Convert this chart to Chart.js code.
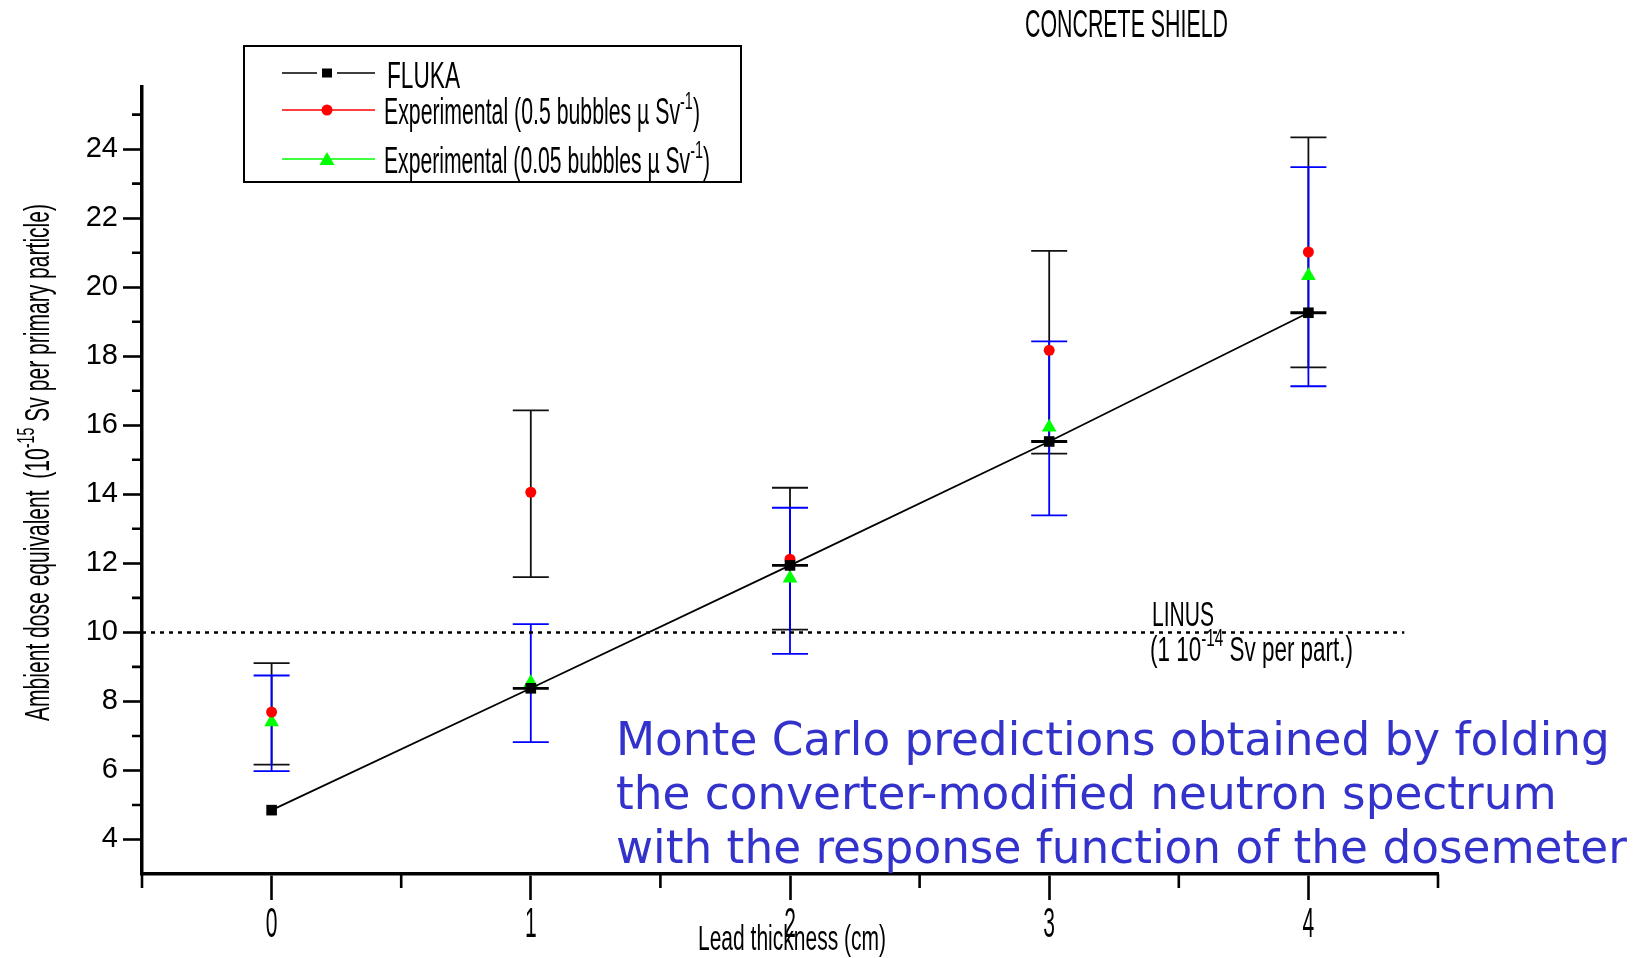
<!DOCTYPE html>
<html>
<head>
<meta charset="utf-8">
<script src="https://cdn.jsdelivr.net/npm/chart.js@4.4.1/dist/chart.umd.min.js"></script>
<style>
  html, body { margin: 0; padding: 0; background: #fff; }
  canvas { display: block; }
</style>
</head>
<body>
<canvas id="doseChart" width="1644" height="958"></canvas>
<script>
// lead thickness (cm)
const thickness = [0, 1, 2, 3, 4];
// FLUKA prediction, 10^-15 Sv per primary particle
const fluka = [4.85, 8.38, 11.94, 15.53, 19.26];
const flukaErr = [null, 0, 0, 0, 0];
// bubble dosemeter, 0.5 bubbles/uSv
const exp05 = [7.69, 14.06, 12.12, 18.17, 21.02];
const exp05High = [9.11, 16.43, 14.19, 21.05, 24.34];
const exp05Low = [6.17, 11.6, 10.08, 15.18, 17.68];
// bubble dosemeter, 0.05 bubbles/uSv
const exp005 = [7.4, 8.54, 11.57, 15.94, 20.33];
const exp005High = [8.75, 10.24, 13.61, 18.43, 23.48];
const exp005Low = [5.98, 6.82, 9.38, 13.39, 17.13];
// LINUS reference level
const linusLevel = 10;
const linusRange = [-0.5, 4.37];

const xTicks = [0, 1, 2, 3, 4];
const xMinor = [-0.5, 0.5, 1.5, 2.5, 3.5, 4.5];
const yTicks = [4, 6, 8, 10, 12, 14, 16, 18, 20, 22, 24];
const yMinor = [5, 7, 9, 11, 13, 15, 17, 19, 21, 23, 25];

const NARROW = "'Liberation Sans', Arial, sans-serif";

const toPoints = (vals) => vals.map((v, i) => ({ x: thickness[i], y: v }));

// draws text squeezed horizontally; parts = [[text, superscript?], ...]
function condensed(ctx, parts, x, y, size, opts) {
  const supSize = size * 0.68;
  let natural = 0;
  parts.forEach(([t, sup]) => {
    ctx.font = (sup ? supSize : size) + "px " + NARROW;
    natural += ctx.measureText(t).width;
  });
  const sx = opts.width ? opts.width / natural : opts.sx;
  const w = natural * sx;
  let left = x;
  if (opts.align === "center") left = x - w / 2;
  ctx.save();
  ctx.translate(left, y);
  ctx.scale(sx, 1);
  ctx.fillStyle = opts.color || "#000";
  ctx.textBaseline = "alphabetic";
  let cx = 0;
  parts.forEach(([t, sup]) => {
    ctx.font = (sup ? supSize : size) + "px " + NARROW;
    ctx.fillText(t, cx, sup ? -size * 0.42 : 0);
    cx += ctx.measureText(t).width;
  });
  ctx.restore();
}

const errorBars = {
  id: "errorBars",
  beforeDatasetsDraw(chart) {
    const { ctx, scales: { x, y } } = chart;
    const cap = 18;
    const bars = (lows, highs, color, width) => {
      ctx.save();
      ctx.strokeStyle = color;
      ctx.lineWidth = width;
      thickness.forEach((t, i) => {
        if (lows[i] == null) return;
        const px = x.getPixelForValue(t);
        const top = y.getPixelForValue(highs[i]);
        const bot = y.getPixelForValue(lows[i]);
        ctx.beginPath();
        ctx.moveTo(px, top); ctx.lineTo(px, bot);
        ctx.moveTo(px - cap, top); ctx.lineTo(px + cap, top);
        ctx.moveTo(px - cap, bot); ctx.lineTo(px + cap, bot);
        ctx.stroke();
      });
      ctx.restore();
    };
    bars(exp05Low, exp05High, "#111", 1.8);
    bars(exp005Low, exp005High, "#0000ff", 1.8);
    const fLow = fluka.map((v, i) => flukaErr[i] == null ? null : v - flukaErr[i]);
    const fHigh = fluka.map((v, i) => flukaErr[i] == null ? null : v + flukaErr[i]);
    bars(fLow, fHigh, "#000", 2.8);
  },
  afterDraw(chart) {
    const { ctx, scales: { x, y }, chartArea } = chart;
    ctx.save();
    ctx.strokeStyle = "#000";
    // minor ticks
    ctx.lineWidth = 2.6;
    ctx.beginPath();
    yMinor.forEach((v) => {
      const py = y.getPixelForValue(v);
      ctx.moveTo(chartArea.left - 10, py); ctx.lineTo(chartArea.left, py);
    });
    xMinor.forEach((v) => {
      const px = x.getPixelForValue(v);
      ctx.moveTo(px, chartArea.bottom); ctx.lineTo(px, chartArea.bottom + 14);
    });
    ctx.stroke();
    ctx.restore();

    // x tick labels
    xTicks.forEach((v) => {
      condensed(ctx, [[String(v), false]], x.getPixelForValue(v), 937, 42, { sx: 0.5, align: "center" });
    });

    // axis titles
    condensed(ctx, [["Lead thickness (cm)", false]], 698, 950, 35, { width: 188 });
    ctx.save();
    ctx.translate(49, 721);
    ctx.rotate(-Math.PI / 2);
    condensed(ctx, [["Ambient dose equivalent  (10", false], ["-15", true], [" Sv per primary particle)", false]], 0, 0, 35, { width: 517 });
    ctx.restore();

    // title
    condensed(ctx, [["CONCRETE SHIELD", false]], 1025, 37, 38, { width: 203 });

    // LINUS label
    condensed(ctx, [["LINUS", false]], 1152, 626, 35, { width: 62 });
    condensed(ctx, [["(1 10", false], ["-14", true], [" Sv per part.)", false]], 1150, 661, 35, { width: 203 });

    // legend
    ctx.save();
    ctx.lineWidth = 2;
    ctx.strokeStyle = "#000";
    ctx.strokeRect(244, 46, 497, 136);
    ctx.lineWidth = 1.5;
    ctx.beginPath();
    ctx.moveTo(282, 73); ctx.lineTo(317, 73);
    ctx.moveTo(337, 73); ctx.lineTo(375, 73);
    ctx.stroke();
    ctx.fillStyle = "#000";
    ctx.fillRect(322, 68.5, 10, 9);
    ctx.strokeStyle = "#ff0000";
    ctx.beginPath(); ctx.moveTo(282, 110); ctx.lineTo(375, 110); ctx.stroke();
    ctx.fillStyle = "#ff0000";
    ctx.beginPath(); ctx.arc(327, 110, 5.5, 0, Math.PI * 2); ctx.fill();
    ctx.strokeStyle = "#00ff00";
    ctx.beginPath(); ctx.moveTo(282, 159); ctx.lineTo(375, 159); ctx.stroke();
    ctx.fillStyle = "#00ff00";
    ctx.beginPath();
    ctx.moveTo(327, 152); ctx.lineTo(334.5, 165); ctx.lineTo(319.5, 165);
    ctx.closePath(); ctx.fill();
    ctx.restore();
    condensed(ctx, [["FLUKA", false]], 387, 88, 36, { width: 73 });
    condensed(ctx, [["Experimental (0.5 bubbles \u00b5 Sv", false], ["-1", true], [")", false]], 384, 124, 36, { width: 316 });
    condensed(ctx, [["Experimental (0.05 bubbles \u00b5 Sv", false], ["-1", true], [")", false]], 384, 173, 36, { width: 326 });

    // note
    const lines = [
      "Monte Carlo predictions obtained by folding",
      "the converter-modified neutron spectrum",
      "with the response function of the dosemeter",
    ];
    ctx.save();
    ctx.font = "40px 'DejaVu Sans'";
    const size = 40 * 994 / ctx.measureText(lines[0]).width;
    ctx.font = size.toFixed(2) + "px 'DejaVu Sans'";
    ctx.fillStyle = "#3333cc";
    ctx.textBaseline = "alphabetic";
    lines.forEach((l, i) => ctx.fillText(l, 616, 755 + i * 54));
    ctx.restore();
  },
};

const ctx = document.getElementById("doseChart");
const chart = new Chart(ctx, {
  type: "scatter",
  data: {
    datasets: [
      {
        label: "LINUS",
        data: linusRange.map((v) => ({ x: v, y: linusLevel })),
        showLine: true,
        borderColor: "#000",
        borderWidth: 2.5,
        borderDash: [4, 5],
        pointRadius: 0,
        order: 3,
      },
      {
        label: "FLUKA",
        data: toPoints(fluka),
        showLine: true,
        borderColor: "#000",
        borderWidth: 1.8,
        backgroundColor: "#000",
        pointStyle: "rect",
        pointRadius: 7.5,
        pointBorderWidth: 0,
        order: 0,
      },
      {
        label: "Experimental (0.5 bubbles/uSv)",
        data: toPoints(exp05),
        backgroundColor: "#ff0000",
        borderColor: "#ff0000",
        pointStyle: "circle",
        pointRadius: 5.5,
        pointBorderWidth: 0,
        order: 1,
      },
      {
        label: "Experimental (0.05 bubbles/uSv)",
        data: toPoints(exp005),
        backgroundColor: "#00ff00",
        borderColor: "#00ff00",
        pointStyle: "triangle",
        pointRadius: 8.5,
        pointBorderWidth: 0,
        order: 2,
      },
    ],
  },
  options: {
    responsive: false,
    animation: false,
    layout: { padding: { left: 0, top: 87, right: 206, bottom: 0 } },
    plugins: { legend: { display: false }, tooltip: { enabled: false } },
    scales: {
      x: {
        type: "linear",
        min: -0.5,
        max: 4.5,
        afterBuildTicks: (s) => { s.ticks = xTicks.map((v) => ({ value: v })); },
        afterFit: (s) => { s.height = 84; s.paddingLeft = 0; s.paddingRight = 0; },
        grid: { drawOnChartArea: false, drawTicks: true, tickLength: 26, tickWidth: 2.6, tickColor: "#000" },
        border: { display: true, color: "#000", width: 3.5 },
        ticks: { display: false },
      },
      y: {
        type: "linear",
        min: 3,
        max: 25.8,
        afterBuildTicks: (s) => { s.ticks = yTicks.map((v) => ({ value: v })); },
        afterFit: (s) => { s.width = 142; s.paddingTop = 0; s.paddingBottom = 0; },
        grid: { drawOnChartArea: false, drawTicks: true, tickLength: 19, tickWidth: 2.6, tickColor: "#000" },
        border: { display: true, color: "#000", width: 3.5 },
        ticks: {
          color: "#000",
          padding: 5,
          font: { family: "'Liberation Sans'", size: 29 },
          callback: (v) => String(v),
        },
      },
    },
  },
  plugins: [errorBars],
});
</script>
</body>
</html>
